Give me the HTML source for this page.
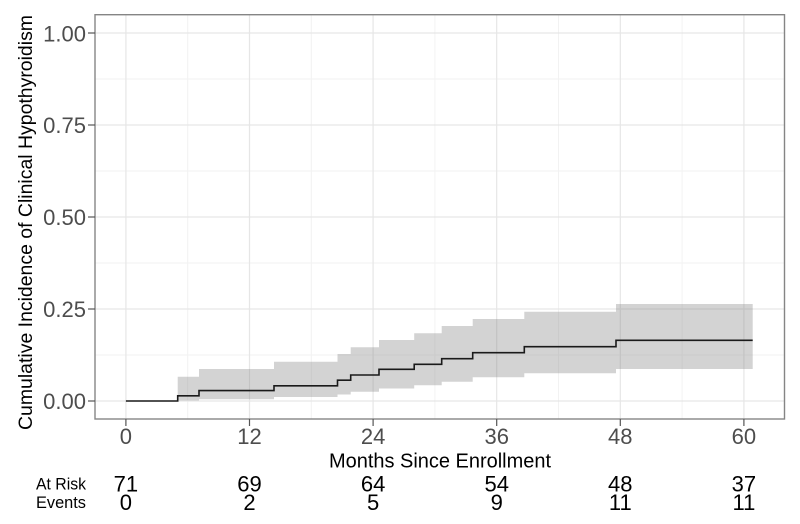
<!DOCTYPE html>
<html>
<head>
<meta charset="utf-8">
<style>
html,body{margin:0;padding:0;background:#fff;}
svg{display:block;font-family:"Liberation Sans",Arial,sans-serif;}
</style>
</head>
<body>
<svg width="800" height="524" viewBox="0 0 800 524" xmlns="http://www.w3.org/2000/svg">
<rect x="0" y="0" width="800" height="524" fill="#fff"/>
<!-- minor grid -->
<g stroke="#f2f2f2" stroke-width="1">
<line x1="95" x2="784.5" y1="355" y2="355"/>
<line x1="95" x2="784.5" y1="263" y2="263"/>
<line x1="95" x2="784.5" y1="171" y2="171"/>
<line x1="95" x2="784.5" y1="79" y2="79"/>
<line x1="187.7" x2="187.7" y1="14.7" y2="419"/>
<line x1="311.3" x2="311.3" y1="14.7" y2="419"/>
<line x1="434.9" x2="434.9" y1="14.7" y2="419"/>
<line x1="558.5" x2="558.5" y1="14.7" y2="419"/>
<line x1="682.1" x2="682.1" y1="14.7" y2="419"/>
</g>
<!-- major grid -->
<g stroke="#e6e6e6" stroke-width="1.2">
<line x1="95" x2="784.5" y1="401" y2="401"/>
<line x1="95" x2="784.5" y1="309" y2="309"/>
<line x1="95" x2="784.5" y1="217" y2="217"/>
<line x1="95" x2="784.5" y1="125" y2="125"/>
<line x1="95" x2="784.5" y1="33" y2="33"/>
<line x1="125.9" x2="125.9" y1="14.7" y2="419"/>
<line x1="249.5" x2="249.5" y1="14.7" y2="419"/>
<line x1="373.1" x2="373.1" y1="14.7" y2="419"/>
<line x1="496.7" x2="496.7" y1="14.7" y2="419"/>
<line x1="620.3" x2="620.3" y1="14.7" y2="419"/>
<line x1="743.9" x2="743.9" y1="14.7" y2="419"/>
</g>
<!-- confidence band -->
<path fill="#8c8c8c" fill-opacity="0.38" d="
M177.7,376.7 H199 V369 H274 V361.7 H337.5 V354 H350.7 V347.3 H379 V340 H414.2 V333.3 H441.7 V326 H472.7 V319 H524.3 V311.7 H616 V304 H752.7
V369 H616 V373.3 H524.3 V377.3 H472.7 V381.7 H441.7 V385.3 H414.2 V388.5 H379 V391.7 H350.7 V394.5 H337.5 V397 H274 V399.3 H199 V400.5 H177.7 Z"/>
<!-- step line -->
<path fill="none" stroke="#1a1a1a" stroke-width="1.6" d="M125.9,401 H177.7 V395.8 H199 V390.6 H274 V385.8 H337.5 V380.2 H350.7 V375 H379 V369.3 H414.2 V364.3 H441.7 V358.7 H472.7 V352.7 H524.3 V346.7 H616 V340.3 H752.7"/>
<!-- panel border -->
<rect x="95" y="14.7" width="689.5" height="404.3" fill="none" stroke="#858585" stroke-width="1.4"/>
<!-- ticks -->
<g stroke="#555" stroke-width="1.2">
<line x1="88" x2="95" y1="401" y2="401"/>
<line x1="88" x2="95" y1="309" y2="309"/>
<line x1="88" x2="95" y1="217" y2="217"/>
<line x1="88" x2="95" y1="125" y2="125"/>
<line x1="88" x2="95" y1="33" y2="33"/>
<line x1="125.9" x2="125.9" y1="419" y2="426"/>
<line x1="249.5" x2="249.5" y1="419" y2="426"/>
<line x1="373.1" x2="373.1" y1="419" y2="426"/>
<line x1="496.7" x2="496.7" y1="419" y2="426"/>
<line x1="620.3" x2="620.3" y1="419" y2="426"/>
<line x1="743.9" x2="743.9" y1="419" y2="426"/>
</g>
<!-- y tick labels -->
<g fill="#4d4d4d" font-size="22" text-anchor="end">
<text x="86" y="409">0.00</text>
<text x="86" y="317">0.25</text>
<text x="86" y="225">0.50</text>
<text x="86" y="133">0.75</text>
<text x="86" y="41.5">1.00</text>
</g>
<!-- x tick labels -->
<g fill="#4d4d4d" font-size="22" text-anchor="middle">
<text x="125.9" y="444">0</text>
<text x="249.5" y="444">12</text>
<text x="373.1" y="444">24</text>
<text x="496.7" y="444">36</text>
<text x="620.3" y="444">48</text>
<text x="743.9" y="444">60</text>
</g>
<!-- axis titles -->
<text x="440" y="467.3" font-size="20" text-anchor="middle" fill="#000" textLength="222" lengthAdjust="spacingAndGlyphs">Months Since Enrollment</text>
<text transform="translate(32,222.5) rotate(-90)" font-size="19.5" text-anchor="middle" fill="#000" textLength="415" lengthAdjust="spacingAndGlyphs">Cumulative Incidence of Clinical Hypothyroidism</text>
<!-- risk table -->
<g fill="#000" font-size="17" text-anchor="end">
<text x="86" y="489.3" textLength="50" lengthAdjust="spacingAndGlyphs">At Risk</text>
<text x="86" y="508" textLength="50" lengthAdjust="spacingAndGlyphs">Events</text>
</g>
<g fill="#000" font-size="22" text-anchor="middle">
<text x="125.9" y="491.5">71</text>
<text x="249.5" y="491.5">69</text>
<text x="373.1" y="491.5">64</text>
<text x="496.7" y="491.5">54</text>
<text x="620.3" y="491.5">48</text>
<text x="743.9" y="491.5">37</text>
<text x="125.9" y="510">0</text>
<text x="249.5" y="510">2</text>
<text x="373.1" y="510">5</text>
<text x="496.7" y="510">9</text>
<text x="620.3" y="510">11</text>
<text x="743.9" y="510">11</text>
</g>
</svg>
</body>
</html>
